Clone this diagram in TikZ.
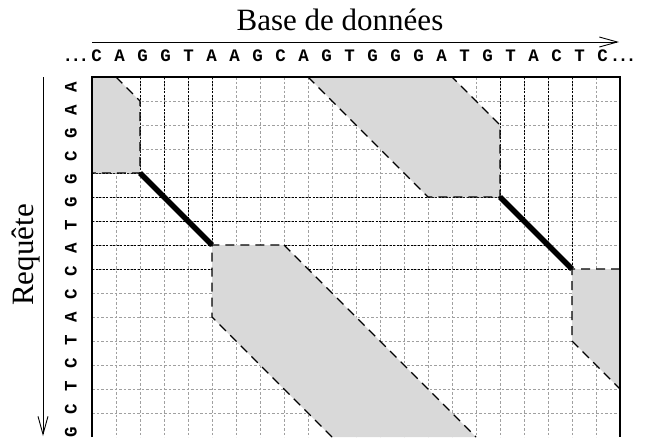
\documentclass[tikz,border=0pt]{standalone}
\usepackage{fontspec}
\setmainfont{Liberation Serif}
\newfontfamily\seqfont{Liberation Mono}
\usetikzlibrary{arrows.meta}
\definecolor{shade}{HTML}{D9D9D9}
\definecolor{gridgray}{HTML}{A0A0A0}
\begin{document}
\begin{tikzpicture}[x=1pt,y=-1pt,
  gridline/.style={draw=gridgray, line width=0.8pt, dash pattern=on 2.5pt off 2pt},
  seedline/.style={draw=black, line width=0.9pt, dash pattern=on 2pt off 1.5pt},
  zone/.style={fill=shade, draw=none},
  zoneedge/.style={draw=black, line width=1.1pt, dash pattern=on 9pt off 6pt},
  hit/.style={draw=black, line width=5.5pt},
  axis/.style={draw=black, line width=0.9pt, -{Straight Barb[length=18pt,width=10pt]}},
  title/.style={font=\fontsize{31}{37}\selectfont, inner sep=0pt},
  nuc/.style={font=\seqfont\bfseries\fontsize{17.5}{21}\selectfont, inner sep=0pt, anchor=base}]
\useasboundingbox (0,0) rectangle (645,437);
\begin{scope}[shift={(92,77)}, x=24pt, y=-24pt]
  % grid
  \foreach \i in {1,...,21} \draw[gridline] (\i,0) -- (\i,15);
  \foreach \j in {1,...,14} \draw[gridline] (0,\j) -- (22,\j);
  % seed lines
  \foreach \k in {0,...,3} {
    \draw[seedline] (2+\k,0) -- (2+\k,4+\k);
    \draw[seedline] (0,4+\k) -- (2+\k,4+\k);
    \draw[seedline] (17+\k,0) -- (17+\k,5+\k);
    \draw[seedline] (0,5+\k) -- (17+\k,5+\k);
  }
  % zones
  \fill[zone] (0,0) -- (1,0) -- (2,1) -- (2,4) -- (0,4) -- cycle;
  \fill[zone] (9,0) -- (15,0) -- (17,2) -- (17,5) -- (14,5) -- cycle;
  \fill[zone] (5,7) -- (8,7) -- (16,15) -- (10,15) -- (5,10) -- cycle;
  \fill[zone] (20,8) -- (22,8) -- (22,13) -- (20,11) -- cycle;
  % zone edges
  \draw[zoneedge] (1,0) -- (2,1) -- (2,4) -- (0,4);
  \draw[zoneedge] (9,0) -- (14,5) -- (17,5) -- (17,2) -- (15,0);
  \draw[zoneedge] (8,7) -- (16,15);
  \draw[zoneedge] (10,15) -- (5,10) -- (5,7) -- (8,7);
  \draw[zoneedge] (22,8) -- (20,8) -- (20,11) -- (22,13);
  % hits
  \draw[hit] (2,4) -- (5,7);
  \draw[hit] (17,5) -- (20,8);
  % border
  \draw[line width=1.2pt] (0,15) -- (0,0) -- (22,0) -- (22,15);
\end{scope}
\node[title, anchor=base] (base) at (340,30) {Base de données};
\coordinate (a1) at (92,42);
\coordinate (a2) at (619,42);
\draw[axis] (a1) -- (a2);
\node[title, anchor=base, rotate=90] (req) at (33,255) {Requête};
\coordinate (b1) at (43,77);
\coordinate (b2) at (43,436);
\draw[axis] (b1) -- (b2);
\foreach \c [count=\i from 0] in {C,A,G,G,T,A,A,G,C,A,G,T,G,G,G,A,T,G,T,A,C,T,C}
  \node[nuc] (top\i) at (96.7+23*\i, 61) {\c};
\foreach \c [count=\i from 0] in {A,A,G,C,G,G,T,A,C,C,A,T,C,T,C,G}
  \node[nuc, rotate=90] (left\i) at (76.7, 87+23*\i) {\c};
\node[nuc, anchor=base west] (dl) at (62.4,61) {.\kern-2.5pt.\kern-2.5pt.};
\node[nuc, anchor=base west] (dr) at (609.7,61) {.\kern-2.5pt.\kern-2.5pt.};
\end{tikzpicture}
\end{document}
